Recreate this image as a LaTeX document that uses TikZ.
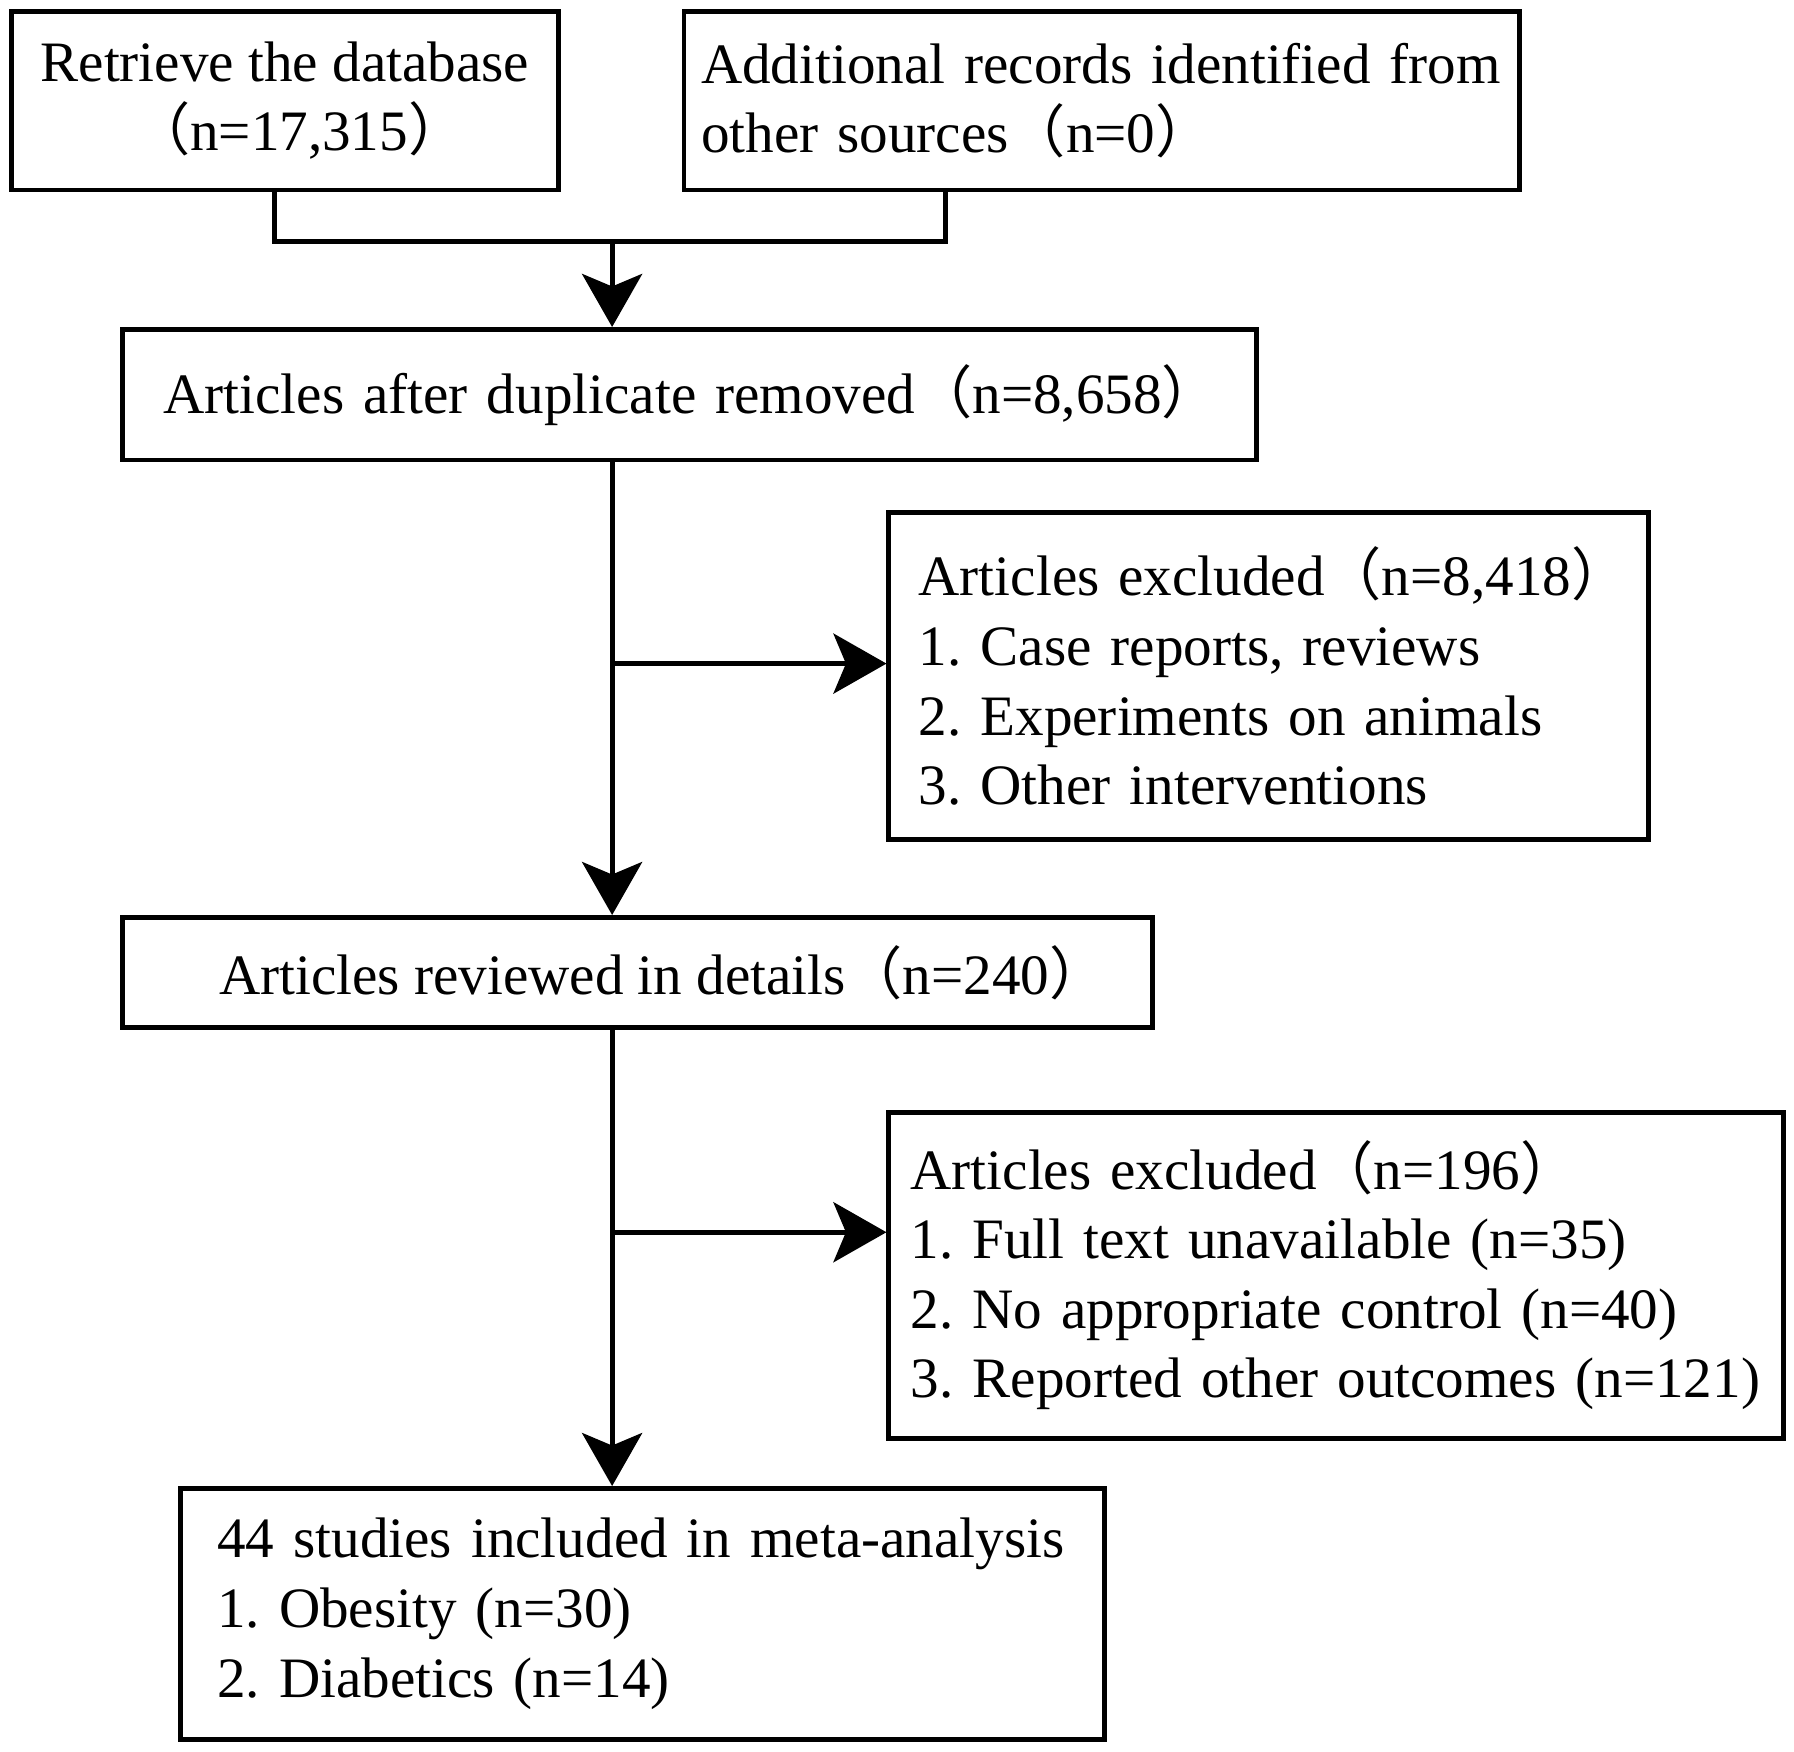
\documentclass[tikz,border=0pt]{standalone}
\usepackage{fontspec}
\setmainfont{Liberation Serif}
\newfontfamily\cjk{Noto Sans CJK SC}
\newcommand{\fwlp}{{\cjk （}}
\newcommand{\fwrp}{\makebox[0.5em][l]{\cjk ）}}
\usepackage{tikz}
\usetikzlibrary{arrows.meta,positioning,calc}

\begin{document}
\begin{tikzpicture}[
    x=0.02288cm, y=-0.02288cm,
    >={Stealth[length=1.06cm, width=1.2cm, inset=0.25cm]},
    line width=2.8pt,
    every node/.style={font=\fontsize{32.5}{39.6}\selectfont\frenchspacing},
    box/.style={
        draw,
        rectangle,
        line width=2.8pt,
        align=left,
        inner ysep=0pt
    },
    cbox/.style={
        box,
        align=center,
        inner xsep=0pt
    }
]
\useasboundingbox (0,0) rectangle (1568,1531);

% ==========================================================
% SOURCES
% ==========================================================
\node[cbox, minimum width=10.94cm, minimum height=3.57cm] (db) at (249,88)
    {Retrieve the database\\\fwlp n=17,315\fwrp};
\node[box, text width=16.02cm, inner xsep=0.343cm, minimum height=3.57cm] (other) at (963,88)
    {Additional records identified from\\other sources\fwlp n=0\fwrp};

% ==========================================================
% SCREENING
% ==========================================================
\node[box, text width=21.03cm, inner xsep=0.824cm, minimum height=2.61cm] (dup) at (602.5,345)
    {Articles after duplicate removed\fwlp n=8,658\fwrp};
\node[box, text width=14.0cm, inner xsep=0.595cm, minimum height=6.54cm] (excl1) at (1109,591)
    {Articles excluded\fwlp n=8,418\fwrp\\1. Case reports, reviews\\2. Experiments on animals\\3. Other interventions};

% ==========================================================
% ELIGIBILITY
% ==========================================================
\node[cbox, minimum width=20.59cm, minimum height=2.2cm] (rev) at (557,850)
    {\hspace*{0.45cm}Articles reviewed in details\fwlp n=240\fwrp};
\node[box, text width=17.02cm, inner xsep=0.435cm, minimum height=6.52cm] (excl2) at (1168,1114.5)
    {Articles excluded\fwlp n=196\fwrp\\1. Full text unavailable (n=35)\\2. No appropriate control (n=40)\\3. Reported other outcomes (n=121)};

% ==========================================================
% INCLUDED
% ==========================================================
\node[box, text width=17.0cm, inner xsep=0.732cm, minimum height=5.01cm] (incl) at (561.5,1410.5)
    {44 studies included in meta-analysis\\1. Obesity (n=30)\\2. Diabetics (n=14)};

% ==========================================================
% CONNECTIONS
% ==========================================================
\coordinate (merge) at (535,211);
\coordinate (split1) at (535,580);
\coordinate (split2) at (535,1077);

\draw ($(db.south)+(-9,0)$) |- (merge) -| ($(other.south)+(-137,0)$);
\draw[->] (merge) -- (merge |- dup.north);

\draw[->] (merge |- dup.south) -- (merge |- rev.north);
\draw[->] (split1) -- (split1 -| excl1.west);

\draw[->] (merge |- rev.south) -- (merge |- incl.north);
\draw[->] (split2) -- (split2 -| excl2.west);

\end{tikzpicture}
\end{document}
